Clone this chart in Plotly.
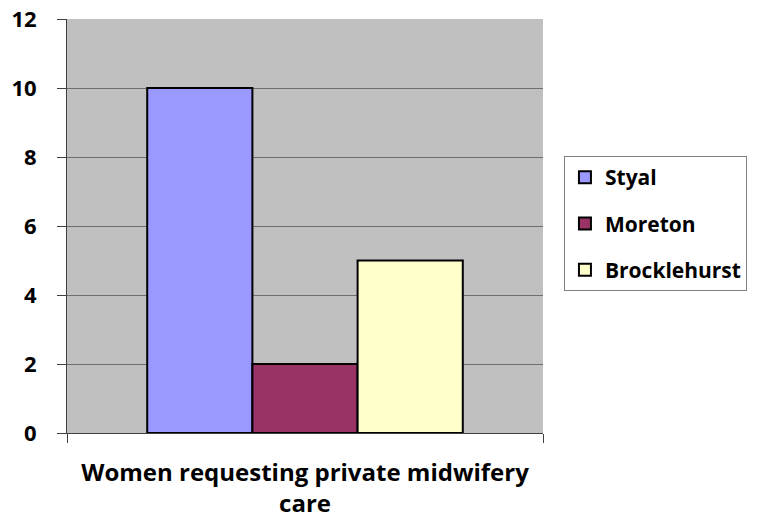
import plotly.graph_objects as go

categories = ["Women requesting private midwifery<br>care"]
series_names = ["Styal", "Moreton", "Brocklehurst"]
series_values = [[10], [2], [5]]
series_colors = ["#9999FF", "#993366", "#FFFFCC"]
y_ticks = [0, 2, 4, 6, 8, 10, 12]

FONT = "Open Sans"

fig = go.Figure()
for i, (name, vals, col) in enumerate(zip(series_names, series_values, series_colors)):
    fig.add_trace(go.Bar(
        x=categories, y=vals, name=name, legendgroup=name,
        marker=dict(color=col, line=dict(color="black", width=2)),
    ))

fig.update_layout(
    width=759, height=520,
    margin=dict(l=67, r=214, t=19, b=87),
    paper_bgcolor="white", plot_bgcolor="#C0C0C0",
    barmode="group", bargap=0.337, bargroupgap=0,
    font=dict(family=FONT, color="black"),
    showlegend=True,
    legend=dict(
        x=1.044, xanchor="left", y=0.506, yanchor="middle",
        bgcolor="white", bordercolor="#808080", borderwidth=1,
        font=dict(family=FONT, size=21, color="black", weight="bold"),
        tracegroupgap=16, itemwidth=30,
    ),
)
fig.update_xaxes(
    type="category", range=[-0.5, 0.5], tickson="boundaries",
    ticks="outside", ticklen=9, tickcolor="#404040",
    showline=True, linecolor="#404040", linewidth=1,
    showgrid=False, ticklabelstandoff=18, automargin=False,
    tickfont=dict(family=FONT, size=24, color="black", weight="bold"),
)
fig.update_yaxes(
    range=[0, 12], tickvals=y_ticks,
    ticks="outside", ticklen=9, tickcolor="#404040",
    showline=True, linecolor="#404040", linewidth=1,
    showgrid=True, gridcolor="#6E6E6E", gridwidth=1,
    zeroline=False, ticklabelstandoff=16, automargin=False,
    tickfont=dict(family=FONT, size=22, color="black", weight="bold"),
)

fig.write_html("out.html")
